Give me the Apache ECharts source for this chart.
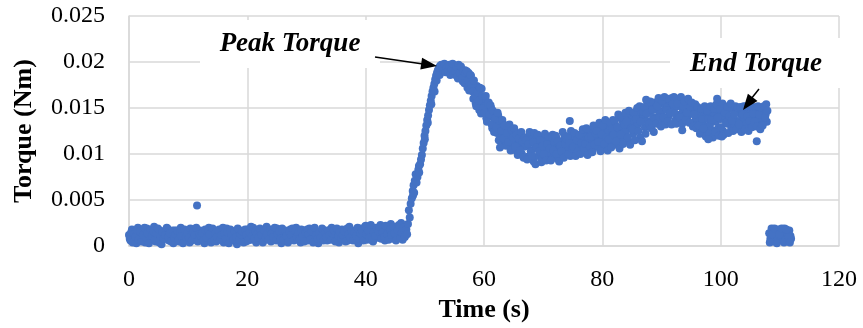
<!DOCTYPE html>
<html>
<head>
<meta charset="utf-8">
<script src="https://cdn.jsdelivr.net/npm/echarts@6/dist/echarts.min.js"></script>
<style>
	html, body { margin: 0; padding: 0; background: #fff; }
	#main { width: 863px; height: 328px; }
</style>
</head>
<body>
<div id="main"></div>
<script>
	// [time (s), torque (Nm)]
	var idleRun = [
		[0,0.0012],[0.25,0.0006],[0.5,0.0018],[0.75,0.0009],[1,0.0014],[1.25,0.0003],[1.5,0.0020],[1.75,0.0011],
		[2,0.0016],[2.25,0.0008],[2.5,0.0013],[2.75,0.0004],[3,0.0019],[3.25,0.0010],[3.5,0.0007],[3.75,0.0015],
		[4,0.0011],[4.25,0.0021],[4.5,0.0005],[4.75,0.0013],[5,0.0009],[5.25,0.0017],[5.5,0.0002],[5.75,0.0012],
		[6,0.0015],[6.25,0.0008],[6.5,0.0019],[6.75,0.0006],[7,0.0011],[7.25,0.0014],[7.5,0.0003],[7.75,0.0017],
		[8,0.0010],[8.25,0.0013],[8.5,0.0005],[8.75,0.0020],[9,0.0009],[9.25,0.0012],[9.5,0.0016],[9.75,0.0007],
		[10,0.0014],[10.25,0.0004],[10.5,0.0011],[10.75,0.0018],[11,0.0008],[11.25,0.0013],[11.5,0.0010],[11.75,0.0006],
		[12,0.0017],[12.25,0.0009],[12.5,0.0012],[12.75,0.0003],[13,0.0015],[13.25,0.0011],[13.5,0.0020],[13.75,0.0007],
		[14,0.0013],[14.25,0.0010],[14.5,0.0016],[14.75,0.0005],[15,0.0012],[15.25,0.0018],[15.5,0.0008],[15.75,0.0014],
		[16,0.0004],[16.25,0.0011],[16.5,0.0019],[16.75,0.0009],[17,0.0013],[17.25,0.0006],[17.5,0.0016],[17.75,0.0010],
		[18,0.0015],[18.25,0.0002],[18.5,0.0012],[18.75,0.0017],[19,0.0008],[19.25,0.0014],[19.5,0.0011],[19.75,0.0005],
		[20,0.0018],[20.25,0.0010],[20.5,0.0013],[20.75,0.0007],[21,0.0020],[21.25,0.0012],[21.5,0.0004],[21.75,0.0015],
		[22,0.0009],[22.25,0.0016],[22.5,0.0011],[22.75,0.0006],[23,0.0014],[23.25,0.0021],[23.5,0.0010],[23.75,0.0013],
		[24,0.0005],[24.25,0.0017],[24.5,0.0012],[24.75,0.0008],[25,0.0019],[25.25,0.0011],[25.5,0.0015],[25.75,0.0003],
		[26,0.0013],[26.25,0.0009],[26.5,0.0016],[26.75,0.0012],[27,0.0006],[27.25,0.0018],[27.5,0.0010],[27.75,0.0014],
		[28,0.0007],[28.25,0.0020],[28.5,0.0011],[28.75,0.0015],[29,0.0004],[29.25,0.0013],[29.5,0.0017],[29.75,0.0009],
		[30,0.0012],[30.25,0.0006],[30.5,0.0019],[30.75,0.0010],[31,0.0014],[31.25,0.0008],[31.5,0.0016],[31.75,0.0011],
		[32,0.0003],[32.25,0.0015],[32.5,0.0012],[32.75,0.0018],[33,0.0009],[33.25,0.0013],[33.5,0.0006],[33.75,0.0017],
		[34,0.0011],[34.25,0.0020],[34.5,0.0008],[34.75,0.0014],[35,0.0010],[35.25,0.0016],[35.5,0.0004],[35.75,0.0013],
		[36,0.0018],[36.25,0.0009],[36.5,0.0015],[36.75,0.0012],[37,0.0006],[37.25,0.0021],[37.5,0.0011],[37.75,0.0014],
		[38,0.0008],[38.25,0.0017],[38.5,0.0013],[38.75,0.0003],[39,0.0019],[39.25,0.0010],[39.5,0.0015],[39.75,0.0012],
		[40,0.0022],[40.25,0.0007],[40.5,0.0014],[40.75,0.0018],[41,0.0011],[41.25,0.0005],[41.5,0.0016],[41.75,0.0020],
		[42,0.0009],[42.25,0.0013],[42.5,0.0023],[42.75,0.0012],[43,0.0017],[43.25,0.0006],[43.5,0.0019],[43.75,0.0014],
		[44,0.0010],[44.25,0.0024],[44.5,0.0015],[44.75,0.0008],[45,0.0021],[45.25,0.0013],[45.5,0.0018],[45.75,0.0011],
		[46,0.0025],[46.25,0.0007],[46.5,0.0016],[46.75,0.0022]
	];

	// the samples in between, same stretch
	var idleRunB = [
		[0.125,0.0008],[0.375,0.0015],[0.625,0.0004],[0.875,0.0013],[1.125,0.0010],[1.375,0.0017],[1.625,0.0007],[1.875,0.0016],
		[2.125,0.0005],[2.375,0.0012],[2.625,0.0020],[2.875,0.0009],[3.125,0.0014],[3.375,0.0003],[3.625,0.0018],[3.875,0.0011],
		[4.125,0.0016],[4.375,0.0007],[4.625,0.0014],[4.875,0.0019],[5.125,0.0004],[5.375,0.0010],[5.625,0.0015],[5.875,0.0008],
		[6.125,0.0012],[6.375,0.0020],[6.625,0.0010],[6.875,0.0014],[7.125,0.0005],[7.375,0.0017],[7.625,0.0009],[7.875,0.0013],
		[8.125,0.0017],[8.375,0.0007],[8.625,0.0015],[8.875,0.0011],[9.125,0.0003],[9.375,0.0018],[9.625,0.0010],[9.875,0.0014],
		[10.125,0.0009],[10.375,0.0019],[10.625,0.0006],[10.875,0.0015],[11.125,0.0012],[11.375,0.0020],[11.625,0.0005],[11.875,0.0013],
		[12.125,0.0011],[12.375,0.0014],[12.625,0.0006],[12.875,0.0018],[13.125,0.0009],[13.375,0.0016],[13.625,0.0013],[13.875,0.0004],
		[14.125,0.0019],[14.375,0.0006],[14.625,0.0014],[14.875,0.0010],[15.125,0.0017],[15.375,0.0007],[15.625,0.0012],[15.875,0.0020],
		[16.125,0.0014],[16.375,0.0008],[16.625,0.0015],[16.875,0.0003],[17.125,0.0018],[17.375,0.0012],[17.625,0.0007],[17.875,0.0016],
		[18.125,0.0010],[18.375,0.0019],[18.625,0.0007],[18.875,0.0013],[19.125,0.0016],[19.375,0.0004],[19.625,0.0018],[19.875,0.0012],
		[20.125,0.0006],[20.375,0.0015],[20.625,0.0021],[20.875,0.0011],[21.125,0.0008],[21.375,0.0016],[21.625,0.0013],[21.875,0.0009],
		[22.125,0.0019],[22.375,0.0012],[22.625,0.0004],[22.875,0.0017],[23.125,0.0009],[23.375,0.0013],[23.625,0.0007],[23.875,0.0018],
		[24.125,0.0014],[24.375,0.0010],[24.625,0.0020],[24.875,0.0006],[25.125,0.0013],[25.375,0.0016],[25.625,0.0008],[25.875,0.0019],
		[26.125,0.0007],[26.375,0.0017],[26.625,0.0011],[26.875,0.0004],[27.125,0.0015],[27.375,0.0012],[27.625,0.0019],[27.875,0.0006],
		[28.125,0.0016],[28.375,0.0010],[28.625,0.0014],[28.875,0.0008],[29.125,0.0018],[29.375,0.0011],[29.625,0.0005],[29.875,0.0015],
		[30.125,0.0018],[30.375,0.0013],[30.625,0.0007],[30.875,0.0016],[31.125,0.0004],[31.375,0.0020],[31.625,0.0012],[31.875,0.0008],
		[32.125,0.0014],[32.375,0.0009],[32.625,0.0019],[32.875,0.0006],[33.125,0.0015],[33.375,0.0010],[33.625,0.0017],[33.875,0.0012],
		[34.125,0.0007],[34.375,0.0014],[34.625,0.0017],[34.875,0.0005],[35.125,0.0019],[35.375,0.0011],[35.625,0.0015],[35.875,0.0008],
		[36.125,0.0012],[36.375,0.0016],[36.625,0.0005],[36.875,0.0019],[37.125,0.0013],[37.375,0.0009],[37.625,0.0017],[37.875,0.0006],
		[38.125,0.0015],[38.375,0.0011],[38.625,0.0020],[38.875,0.0008],[39.125,0.0014],[39.375,0.0017],[39.625,0.0006],[39.875,0.0021],
		[40.125,0.0013],[40.375,0.0017],[40.625,0.0009],[40.875,0.0023],[41.125,0.0006],[41.375,0.0015],[41.625,0.0011],[41.875,0.0019],
		[42.125,0.0016],[42.375,0.0020],[42.625,0.0008],[42.875,0.0015],[43.125,0.0010],[43.375,0.0022],[43.625,0.0013],[43.875,0.0007],
		[44.125,0.0018],[44.375,0.0012],[44.625,0.0021],[44.875,0.0014],[45.125,0.0006],[45.375,0.0017],[45.625,0.0023],[45.875,0.0009],
		[46.125,0.0015],[46.375,0.0020],[46.625,0.0010],[46.875,0.0018]
	];

	var rampUp = [
		[47.0,0.0013],[47.15,0.0024],[47.3,0.0039],[47.45,0.0031],[47.6,0.0046],[47.8,0.0052],[47.95,0.0060],[48.0,0.0055],
		[48.1,0.0066],[48.2,0.0058],[48.3,0.0071],[48.45,0.0078],[48.6,0.0069],[48.75,0.0075],[48.9,0.0083],[49.0,0.0087],
		[49.05,0.0080],[49.2,0.0089],[49.35,0.0094],[49.5,0.0099],[49.65,0.0106],[49.8,0.0112],[49.95,0.0120],[50.0,0.0116],
		[50.1,0.0125],[50.25,0.0131],[50.4,0.0137],[50.5,0.0134],[50.55,0.0142],[50.7,0.0148],[50.85,0.0153],[51.0,0.0158],
		[51.1,0.0154],[51.15,0.0163],[51.3,0.0168],[51.45,0.0172],[51.6,0.0176],[51.65,0.0168],[51.75,0.0181],[51.9,0.0185],
		[52.0,0.0180],[52.05,0.0188],[52.2,0.0191],[52.4,0.0194],[52.5,0.0186],[52.6,0.0196],[52.8,0.0197]
	];

	var mainRun = [
		[53,0.0195],[53.2,0.0190],[53.4,0.0197],[53.6,0.0192],[53.8,0.0196],
		[54,0.0193],[54.2,0.0197],[54.4,0.0188],[54.6,0.0195],[54.8,0.0191],
		[55,0.0196],[55.2,0.0186],[55.4,0.0192],[55.6,0.0182],[55.8,0.0194],
		[56,0.0189],[56.2,0.0193],[56.4,0.0179],[56.6,0.0186],[56.8,0.0191],
		[57,0.0183],[57.2,0.0172],[57.4,0.0188],[57.6,0.0178],[57.8,0.0185],
		[58,0.0176],[58.2,0.0160],[58.4,0.0170],[58.6,0.0155],[58.8,0.0174],
		[59,0.0166],[59.2,0.0148],[59.4,0.0160],[59.6,0.0171],[59.8,0.0153],
		[60,0.0152],[60.2,0.0160],[60.4,0.0139],[60.6,0.0148],[60.8,0.0156],
		[61,0.0141],[61.2,0.0150],[61.4,0.0128],[61.6,0.0145],[61.8,0.0135],
		[62,0.0138],[62.2,0.0123],[62.4,0.0142],[62.6,0.0131],[62.8,0.0118],
		[63,0.0126],[63.2,0.0133],[63.4,0.0113],[63.6,0.0129],[63.8,0.0120],
		[64,0.0121],[64.2,0.0109],[64.4,0.0128],[64.6,0.0116],[64.8,0.0124],
		[65,0.0115],[65.2,0.0124],[65.4,0.0104],[65.6,0.0119],[65.8,0.0111],
		[66,0.0112],[66.2,0.0120],[66.4,0.0100],[66.6,0.0116],[66.8,0.0108],
		[67,0.0109],[67.2,0.0118],[67.4,0.0097],[67.6,0.0113],[67.8,0.0122],
		[68,0.0104],[68.2,0.0116],[68.4,0.0092],[68.6,0.0110],[68.8,0.0120],
		[69,0.0112],[69.2,0.0098],[69.4,0.0118],[69.6,0.0106],[69.8,0.0094],
		[70,0.0108],[70.2,0.0117],[70.4,0.0096],[70.6,0.0113],[70.8,0.0103],
		[71,0.0115],[71.2,0.0101],[71.4,0.0110],[71.6,0.0121],[71.8,0.0097],
		[72,0.0106],[72.2,0.0118],[72.4,0.0095],[72.6,0.0112],[72.8,0.0104],
		[73,0.0114],[73.2,0.0099],[73.4,0.0109],[73.6,0.0120],[73.8,0.0105],
		[74,0.0103],[74.2,0.0116],[74.4,0.0108],[74.6,0.0098],[74.8,0.0122],
		[75,0.0117],[75.2,0.0105],[75.4,0.0112],[75.6,0.0100],[75.8,0.0121],
		[76,0.0109],[76.2,0.0118],[76.4,0.0103],[76.6,0.0114],[76.8,0.0124],
		[77,0.0120],[77.2,0.0106],[77.4,0.0115],[77.6,0.0101],[77.8,0.0125],
		[78,0.0112],[78.2,0.0123],[78.4,0.0105],[78.6,0.0118],[78.8,0.0128],
		[79,0.0119],[79.2,0.0108],[79.4,0.0126],[79.6,0.0114],[79.8,0.0131],
		[80,0.0116],[80.2,0.0127],[80.4,0.0106],[80.6,0.0121],[80.8,0.0133],
		[81,0.0124],[81.2,0.0112],[81.4,0.0130],[81.6,0.0118],[81.8,0.0137],
		[82,0.0119],[82.2,0.0131],[82.4,0.0110],[82.6,0.0126],[82.8,0.0140],
		[83,0.0129],[83.2,0.0117],[83.4,0.0136],[83.6,0.0123],[83.8,0.0142],
		[84,0.0125],[84.2,0.0138],[84.4,0.0114],[84.6,0.0131],[84.8,0.0144],
		[85,0.0135],[85.2,0.0122],[85.4,0.0141],[85.6,0.0128],[85.8,0.0147],
		[86,0.0132],[86.2,0.0144],[86.4,0.0118],[86.6,0.0138],[86.8,0.0150],
		[87,0.0141],[87.2,0.0129],[87.4,0.0149],[87.6,0.0136],[87.8,0.0154],
		[88,0.0145],[88.2,0.0135],[88.4,0.0152],[88.6,0.0140],[88.8,0.0156],
		[89,0.0149],[89.2,0.0138],[89.4,0.0156],[89.6,0.0143],[89.8,0.0159],
		[90,0.0146],[90.2,0.0155],[90.4,0.0135],[90.6,0.0151],[90.8,0.0160],
		[91,0.0153],[91.2,0.0141],[91.4,0.0158],[91.6,0.0147],[91.8,0.0161],
		[92,0.0148],[92.2,0.0157],[92.4,0.0137],[92.6,0.0152],[92.8,0.0160],
		[93,0.0155],[93.2,0.0143],[93.4,0.0159],[93.6,0.0149],[93.8,0.0136],
		[94,0.0150],[94.2,0.0157],[94.4,0.0140],[94.6,0.0154],[94.8,0.0146],
		[95,0.0145],[95.2,0.0152],[95.4,0.0134],[95.6,0.0148],[95.8,0.0140],
		[96,0.0139],[96.2,0.0147],[96.4,0.0127],[96.6,0.0143],[96.8,0.0134],
		[97,0.0136],[97.2,0.0145],[97.4,0.0124],[97.6,0.0141],[97.8,0.0130],
		[98,0.0140],[98.2,0.0132],[98.4,0.0148],[98.6,0.0126],[98.8,0.0144],
		[99,0.0143],[99.2,0.0135],[99.4,0.0151],[99.6,0.0128],[99.8,0.0146],
		[100,0.0138],[100.2,0.0147],[100.4,0.0125],[100.6,0.0142],[100.8,0.0152],
		[101,0.0144],[101.2,0.0133],[101.4,0.0149],[101.6,0.0139],[101.8,0.0128],
		[102,0.0140],[102.2,0.0148],[102.4,0.0131],[102.6,0.0145],[102.8,0.0136],
		[103,0.0146],[103.2,0.0135],[103.4,0.0150],[103.6,0.0141],[103.8,0.0129],
		[104,0.0139],[104.2,0.0147],[104.4,0.0133],[104.6,0.0144],[104.8,0.0150],
		[105,0.0145],[105.2,0.0137],[105.4,0.0150],[105.6,0.0141],[105.8,0.0132],
		[106,0.0141],[106.2,0.0148],[106.4,0.0134],[106.6,0.0145],[106.8,0.0139],
		[107,0.0146],[107.2,0.0138],[107.4,0.0150],[107.6,0.0143],[107.8,0.0135]
	];

	// the samples in between, same stretch
	var mainRunB = [
		[53.1,0.0193],[53.3,0.0198],[53.5,0.0189],[53.7,0.0194],[53.9,0.0191],
		[54.1,0.0196],[54.3,0.0186],[54.5,0.0192],[54.7,0.0198],[54.9,0.0187],
		[55.1,0.0190],[55.3,0.0195],[55.5,0.0184],[55.7,0.0197],[55.9,0.0188],
		[56.1,0.0195],[56.3,0.0183],[56.5,0.0190],[56.7,0.0177],[56.9,0.0188],
		[57.1,0.0190],[57.3,0.0180],[57.5,0.0169],[57.7,0.0186],[57.9,0.0175],
		[58.1,0.0168],[58.3,0.0180],[58.5,0.0163],[58.7,0.0152],[58.9,0.0167],
		[59.1,0.0158],[59.3,0.0172],[59.5,0.0144],[59.7,0.0163],[59.9,0.0150],
		[60.1,0.0145],[60.3,0.0163],[60.5,0.0135],[60.7,0.0155],[60.9,0.0143],
		[61.1,0.0153],[61.3,0.0132],[61.5,0.0147],[61.7,0.0124],[61.9,0.0139],
		[62.1,0.0129],[62.3,0.0145],[62.5,0.0115],[62.7,0.0136],[62.9,0.0125],
		[63.1,0.0137],[63.3,0.0117],[63.5,0.0131],[63.7,0.0109],[63.9,0.0123],
		[64.1,0.0113],[64.3,0.0132],[64.5,0.0104],[64.7,0.0126],[64.9,0.0118],
		[65.1,0.0128],[65.3,0.0108],[65.5,0.0121],[65.7,0.0099],[65.9,0.0117],
		[66.1,0.0104],[66.3,0.0124],[66.5,0.0114],[66.7,0.0096],[66.9,0.0118],
		[67.1,0.0115],[67.3,0.0094],[67.5,0.0111],[67.7,0.0124],[67.9,0.0103],
		[68.1,0.0098],[68.3,0.0113],[68.5,0.0123],[68.7,0.0089],[68.9,0.0107],
		[69.1,0.0121],[69.3,0.0103],[69.5,0.0115],[69.7,0.0091],[69.9,0.0109],
		[70.1,0.0100],[70.3,0.0122],[70.5,0.0093],[70.7,0.0111],[70.9,0.0119],
		[71.1,0.0106],[71.3,0.0093],[71.5,0.0118],[71.7,0.0104],[71.9,0.0113],
		[72.1,0.0120],[72.3,0.0100],[72.5,0.0114],[72.7,0.0092],[72.9,0.0109],
		[73.1,0.0103],[73.3,0.0124],[73.5,0.0096],[73.7,0.0111],[73.9,0.0117],
		[74.1,0.0119],[74.3,0.0100],[74.5,0.0112],[74.7,0.0125],[74.9,0.0106],
		[75.1,0.0108],[75.3,0.0123],[75.5,0.0098],[75.7,0.0115],[75.9,0.0103],
		[76.1,0.0121],[76.3,0.0100],[76.5,0.0112],[76.7,0.0127],[76.9,0.0106],
		[77.1,0.0111],[77.3,0.0128],[77.5,0.0099],[77.7,0.0118],[77.9,0.0108],
		[78.1,0.0119],[78.3,0.0102],[78.5,0.0131],[78.7,0.0110],[78.9,0.0122],
		[79.1,0.0125],[79.3,0.0113],[79.5,0.0134],[79.7,0.0103],[79.9,0.0121],
		[80.1,0.0131],[80.3,0.0111],[80.5,0.0137],[80.7,0.0118],[80.9,0.0104],
		[81.1,0.0116],[81.3,0.0134],[81.5,0.0107],[81.7,0.0127],[81.9,0.0121],
		[82.1,0.0136],[82.3,0.0114],[82.5,0.0129],[82.7,0.0143],[82.9,0.0106],
		[83.1,0.0121],[83.3,0.0140],[83.5,0.0111],[83.7,0.0132],[83.9,0.0145],
		[84.1,0.0135],[84.3,0.0118],[84.5,0.0147],[84.7,0.0110],[84.9,0.0128],
		[85.1,0.0127],[85.3,0.0145],[85.5,0.0115],[85.7,0.0138],[85.9,0.0150],
		[86.1,0.0125],[86.3,0.0152],[86.5,0.0135],[86.7,0.0114],[86.9,0.0146],
		[87.1,0.0151],[87.3,0.0122],[87.5,0.0144],[87.7,0.0156],[87.9,0.0133],
		[88.1,0.0157],[88.3,0.0128],[88.5,0.0148],[88.7,0.0124],[88.9,0.0138],
		[89.1,0.0133],[89.3,0.0152],[89.5,0.0161],[89.7,0.0140],[89.9,0.0130],
		[90.1,0.0158],[90.3,0.0140],[90.5,0.0162],[90.7,0.0132],[90.9,0.0148],
		[91.1,0.0136],[91.3,0.0160],[91.5,0.0145],[91.7,0.0132],[91.9,0.0155],
		[92.1,0.0162],[92.3,0.0144],[92.5,0.0133],[92.7,0.0155],[92.9,0.0140],
		[93.1,0.0140],[93.3,0.0162],[93.5,0.0133],[93.7,0.0152],[93.9,0.0157],
		[94.1,0.0137],[94.3,0.0145],[94.5,0.0160],[94.7,0.0134],[94.9,0.0151],
		[95.1,0.0156],[95.3,0.0130],[95.5,0.0143],[95.7,0.0154],[95.9,0.0128],
		[96.1,0.0151],[96.3,0.0131],[96.5,0.0122],[96.7,0.0149],[96.9,0.0138],
		[97.1,0.0128],[97.3,0.0152],[97.5,0.0119],[97.7,0.0147],[97.9,0.0138],
		[98.1,0.0122],[98.3,0.0152],[98.5,0.0137],[98.7,0.0118],[98.9,0.0149],
		[99.1,0.0124],[99.3,0.0154],[99.5,0.0140],[99.7,0.0120],[99.9,0.0149],
		[100.1,0.0129],[100.3,0.0155],[100.5,0.0121],[100.7,0.0145],[100.9,0.0134],
		[101.1,0.0151],[101.3,0.0123],[101.5,0.0141],[101.7,0.0155],[101.9,0.0136],
		[102.1,0.0125],[102.3,0.0143],[102.5,0.0152],[102.7,0.0127],[102.9,0.0150],
		[103.1,0.0132],[103.3,0.0151],[103.5,0.0124],[103.7,0.0143],[103.9,0.0152],
		[104.1,0.0127],[104.3,0.0152],[104.5,0.0141],[104.7,0.0125],[104.9,0.0136],
		[105.1,0.0152],[105.3,0.0129],[105.5,0.0144],[105.7,0.0135],[105.9,0.0151],
		[106.1,0.0130],[106.3,0.0152],[106.5,0.0143],[106.7,0.0127],[106.9,0.0150],
		[107.1,0.0131],[107.3,0.0152],[107.5,0.0140],[107.7,0.0154],[107.9,0.0147]
	];

	var strayPoints = [
		[11.5,0.0044],[62.7,0.0107],[74.5,0.0136],[87.4,0.0159],[93.5,0.0126],
		[97.9,0.0116],[99.4,0.0160],[100.2,0.0119],[106.1,0.0114]
	];

	var afterStop = [
		[108.2,0.0014],[108.4,0.0008],[108.6,0.0019],[108.8,0.0011],[109.0,0.0005],[109.2,0.0016],[109.4,0.0012],
		[109.6,0.0007],[109.8,0.0018],[110.0,0.0010],[110.2,0.0015],[110.4,0.0006],[110.6,0.0013],[110.8,0.0019],
		[111.0,0.0009],[111.2,0.0014],[111.4,0.0005],[111.6,0.0017],[111.8,0.0011],[111.9,0.0008],
		[108.3,0.0004],[108.7,0.0013],[109.1,0.0019],[109.5,0.0003],[109.9,0.0013],[110.3,0.0019],[110.7,0.0004],
		[111.1,0.0018],[111.5,0.0010],[111.7,0.0004]
	];

	var xTicks = [0, 20, 40, 60, 80, 100, 120];
	var yTicks = [0, 0.005, 0.01, 0.015, 0.02, 0.025];

	var allPoints = idleRun.concat(idleRunB, rampUp, mainRun, mainRunB, strayPoints, afterStop);

	var myChart = echarts.init(document.getElementById('main'));

	var serif = '"Liberation Serif", "Times New Roman", serif';
	var gridGray = '#d9d9d9';

	var option = {
		animation: false,
		backgroundColor: '#fff',
		textStyle: { fontFamily: serif },
		grid: { left: 129, right: 24, top: 16, bottom: 78.5, containLabel: false },
		xAxis: {
			type: 'value',
			min: xTicks[0],
			max: xTicks[xTicks.length - 1],
			interval: 20,
			name: 'Time (s)',
			nameLocation: 'middle',
			nameGap: 48,
			nameTextStyle: { fontFamily: serif, fontSize: 26, fontWeight: 'bold', color: '#000' },
			axisLine: { show: true, lineStyle: { color: gridGray, width: 1.5 } },
			axisTick: { show: false },
			axisLabel: { fontFamily: serif, fontSize: 24, color: '#000', margin: 22 },
			splitLine: { show: true, lineStyle: { color: gridGray, width: 1.5 } }
		},
		yAxis: {
			type: 'value',
			min: yTicks[0],
			max: yTicks[yTicks.length - 1],
			interval: 0.005,
			name: 'Torque (Nm)',
			nameLocation: 'middle',
			nameGap: 92,
			nameTextStyle: { fontFamily: serif, fontSize: 26, fontWeight: 'bold', color: '#000' },
			axisLine: { show: true, lineStyle: { color: gridGray, width: 1.5 } },
			axisTick: { show: false },
			axisLabel: { fontFamily: serif, fontSize: 24, color: '#000', margin: 24 },
			splitLine: { show: true, lineStyle: { color: gridGray, width: 1.5 } }
		},
		series: [{
			name: 'Torque',
			type: 'scatter',
			symbol: 'circle',
			symbolSize: 8,
			itemStyle: { color: '#4472C4', opacity: 1 },
			data: allPoints
		}],
		graphic: [
			// label boxes hide the grid behind the text, like the original
			{ type: 'rect', z: 100, shape: { x: 200, y: 20, width: 180, height: 48 }, style: { fill: '#fff' } },
			{ type: 'text', z: 101, x: 290, y: 44, style: {
				text: 'Peak Torque', font: 'italic bold 27px ' + serif, fill: '#000', align: 'center', verticalAlign: 'middle'
			} },
			{ type: 'rect', z: 100, shape: { x: 670, y: 38, width: 180, height: 50 }, style: { fill: '#fff' } },
			{ type: 'text', z: 101, x: 756, y: 64, style: {
				text: 'End Torque', font: 'italic bold 27px ' + serif, fill: '#000', align: 'center', verticalAlign: 'middle'
			} },
			// arrows
			{ type: 'line', z: 102, shape: { x1: 375, y1: 57, x2: 423, y2: 64 }, style: { stroke: '#000', lineWidth: 1.5 } },
			{ type: 'polygon', z: 102, shape: { points: [[437, 66], [420.3, 69.6], [422.1, 57.8]] }, style: { fill: '#000' } },
			{ type: 'line', z: 102, shape: { x1: 759, y1: 89, x2: 751, y2: 99 }, style: { stroke: '#000', lineWidth: 1.5 } },
			{ type: 'polygon', z: 102, shape: { points: [[743, 110], [747.9, 93.7], [757.5, 100.9]] }, style: { fill: '#000' } }
		]
	};

	option && myChart.setOption(option);
</script>
</body>
</html>
